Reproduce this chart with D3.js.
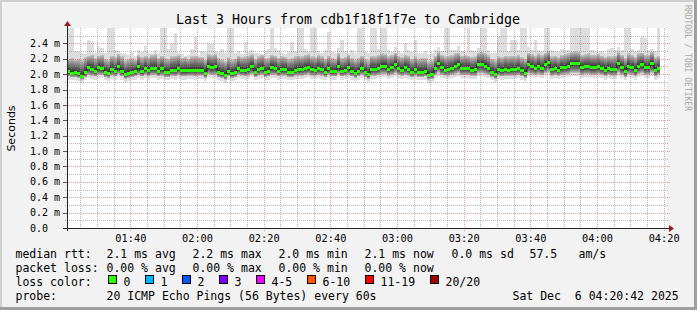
<!DOCTYPE html>
<html>
<head>
<meta charset="utf-8">
<script src="https://cdn.jsdelivr.net/npm/d3@7"></script>
<style>
  body { margin: 0; background: #f2f2f2; }
  svg text { font-family: "DejaVu Sans Mono", monospace; fill: #000; }
</style>
</head>
<body>
<svg id="chart" width="697" height="310"></svg>
<script>
// ---- data (values in ms) ----
const startTime = new Date(2025, 11, 6, 1, 21, 0);   // one column per minute

const median = [
  2.04, 2.02, 2.03, 2.01, 1.98, 2.03, 2.09, 2.07, 2.04, 2.09,
  2.08, 2.03, 2.02, 2.07, 2.04, 2.10, 2.04, 2.00, 2.02, 2.03,
  2.04, 2.10, 2.04, 2.08, 2.05, 2.08, 2.08, 2.04, 2.08, 2.03,
  2.03, 2.06, 2.06, 2.08, 2.05, 2.05, 2.05, 2.06, 2.06, 2.06,
  2.06, 2.02, 2.11, 2.09, 2.10, 2.03, 2.01, 1.99, 2.04, 2.01,
  2.03, 2.08, 2.06, 2.05, 2.07, 2.10, 2.03, 2.07, 2.08, 2.03,
  2.04, 2.09, 2.08, 2.04, 2.07, 2.07, 2.03, 2.03, 2.06, 2.07,
  2.07, 2.08, 2.09, 2.07, 2.06, 2.08, 2.07, 2.03, 2.08, 2.04,
  2.04, 2.11, 2.04, 2.06, 2.09, 2.04, 2.02, 2.04, 2.08, 2.03,
  2.00, 2.07, 2.07, 2.08, 2.11, 2.11, 2.07, 2.09, 2.13, 2.08,
  2.06, 2.09, 2.07, 2.03, 2.07, 2.03, 2.03, 2.04, 1.99, 2.00,
  2.08, 2.14, 2.09, 2.06, 2.07, 2.08, 2.11, 2.13, 2.08, 2.08,
  2.08, 2.06, 2.07, 2.13, 2.13, 2.11, 2.08, 2.03, 2.00, 2.07,
  2.05, 2.07, 2.06, 2.07, 2.07, 2.08, 2.05, 2.02, 2.13, 2.10,
  2.08, 2.11, 2.08, 2.13, 2.16, 2.07, 2.08, 2.06, 2.09, 2.09,
  2.11, 2.14, 2.14, 2.14, 2.09, 2.10, 2.10, 2.09, 2.09, 2.10,
  2.08, 2.06, 2.08, 2.07, 2.07, 2.14, 2.09, 2.04, 2.11, 2.09,
  2.06, 2.11, 2.13, 2.09, 2.09, 2.14, 2.06, 2.08
];

// slowest ping of each round (tall light smoke)
const smokeMax = [
  2.70, 2.70, 2.30, 2.29, 2.27, 2.26, 2.44, 2.43, 2.27, 2.35,
  2.34, 2.27, 2.70, 2.70, 2.31, 2.30, 2.28, 2.27, 2.25, 2.27,
  2.23, 2.31, 2.29, 2.36, 2.27, 2.27, 2.31, 2.28, 2.70, 2.70,
  2.33, 2.40, 2.53, 2.27, 2.26, 2.24, 2.25, 2.33, 2.48, 2.25,
  2.30, 2.29, 2.40, 2.39, 2.30, 2.29, 2.33, 2.27, 2.70, 2.70,
  2.28, 2.30, 2.26, 2.42, 2.29, 2.32, 2.27, 2.28, 2.26, 2.30,
  2.33, 2.70, 2.34, 2.31, 2.28, 2.26, 2.29, 2.42, 2.30, 2.70,
  2.70, 2.33, 2.30, 2.70, 2.70, 2.30, 2.28, 2.31, 2.55, 2.29,
  2.27, 2.34, 2.45, 2.30, 2.28, 2.31, 2.27, 2.70, 2.70, 2.29,
  2.28, 2.70, 2.70, 2.33, 2.70, 2.70, 2.31, 2.29, 2.35, 2.30,
  2.28, 2.40, 2.31, 2.29, 2.45, 2.28, 2.27, 2.30, 2.26, 2.27,
  2.31, 2.35, 2.30, 2.70, 2.70, 2.32, 2.31, 2.36, 2.30, 2.29,
  2.70, 2.32, 2.30, 2.34, 2.70, 2.70, 2.31, 2.28, 2.27, 2.50,
  2.70, 2.70, 2.30, 2.45, 2.44, 2.31, 2.70, 2.70, 2.35, 2.32,
  2.45, 2.31, 2.30, 2.70, 2.70, 2.31, 2.30, 2.29, 2.33, 2.32,
  2.31, 2.70, 2.70, 2.70, 2.70, 2.70, 2.70, 2.31, 2.30, 2.29,
  2.30, 2.28, 2.33, 2.34, 2.31, 2.35, 2.32, 2.62, 2.60, 2.33,
  2.30, 2.32, 2.48, 2.47, 2.31, 2.33, 2.30, 2.70
];

// upper edge of the dense smoke
const smokeHigh = [
  2.20, 2.21, 2.19, 2.20, 2.18, 2.22, 2.24, 2.25, 2.21, 2.24,
  2.25, 2.20, 2.19, 2.24, 2.22, 2.26, 2.23, 2.18, 2.20, 2.21,
  2.19, 2.25, 2.22, 2.24, 2.22, 2.25, 2.26, 2.21, 2.24, 2.21,
  2.20, 2.23, 2.24, 2.25, 2.21, 2.22, 2.20, 2.23, 2.24, 2.22,
  2.22, 2.19, 2.26, 2.25, 2.26, 2.21, 2.19, 2.17, 2.22, 2.19,
  2.20, 2.24, 2.22, 2.23, 2.24, 2.26, 2.20, 2.23, 2.25, 2.21,
  2.21, 2.25, 2.24, 2.21, 2.23, 2.22, 2.20, 2.21, 2.23, 2.24,
  2.23, 2.25, 2.26, 2.23, 2.22, 2.25, 2.23, 2.20, 2.24, 2.21,
  2.20, 2.27, 2.21, 2.22, 2.25, 2.21, 2.19, 2.21, 2.24, 2.20,
  2.18, 2.24, 2.23, 2.25, 2.27, 2.26, 2.23, 2.25, 2.28, 2.24,
  2.22, 2.25, 2.24, 2.20, 2.23, 2.20, 2.21, 2.21, 2.17, 2.18,
  2.24, 2.29, 2.25, 2.23, 2.24, 2.25, 2.27, 2.28, 2.24, 2.25,
  2.24, 2.22, 2.23, 2.28, 2.29, 2.27, 2.25, 2.20, 2.18, 2.23,
  2.22, 2.24, 2.23, 2.24, 2.23, 2.25, 2.22, 2.20, 2.28, 2.26,
  2.24, 2.27, 2.25, 2.28, 2.30, 2.23, 2.24, 2.22, 2.25, 2.26,
  2.27, 2.29, 2.30, 2.29, 2.25, 2.26, 2.27, 2.25, 2.25, 2.26,
  2.24, 2.22, 2.24, 2.23, 2.24, 2.29, 2.25, 2.21, 2.27, 2.25,
  2.22, 2.27, 2.28, 2.25, 2.25, 2.29, 2.22, 2.24
];

// lower edge of the dense smoke
const smokeLow = [
  1.97, 1.96, 1.96, 1.95, 1.93, 1.96, 1.99, 1.98, 1.97, 1.99,
  1.99, 1.96, 1.95, 1.98, 1.97, 2.00, 1.97, 1.94, 1.95, 1.96,
  1.97, 1.99, 1.97, 1.99, 1.97, 1.99, 1.99, 1.97, 1.98, 1.96,
  1.96, 1.98, 1.97, 1.99, 1.97, 1.97, 1.98, 1.98, 1.97, 1.98,
  1.98, 1.95, 2.00, 1.99, 1.99, 1.96, 1.95, 1.93, 1.97, 1.95,
  1.96, 1.99, 1.98, 1.97, 1.98, 2.00, 1.96, 1.98, 1.99, 1.96,
  1.97, 1.99, 1.99, 1.97, 1.98, 1.98, 1.96, 1.96, 1.98, 1.98,
  1.98, 1.99, 2.00, 1.98, 1.98, 1.99, 1.98, 1.96, 1.99, 1.97,
  1.97, 2.00, 1.97, 1.98, 1.99, 1.97, 1.95, 1.97, 1.99, 1.96,
  1.94, 1.98, 1.98, 1.99, 2.00, 2.00, 1.98, 1.99, 2.01, 1.99,
  1.98, 1.99, 1.98, 1.96, 1.98, 1.96, 1.96, 1.97, 1.93, 1.94,
  1.99, 2.02, 1.99, 1.98, 1.98, 1.99, 2.00, 2.01, 1.99, 1.99,
  1.99, 1.98, 1.98, 2.01, 2.01, 2.00, 1.99, 1.96, 1.94, 1.98,
  1.97, 1.98, 1.98, 1.98, 1.98, 1.99, 1.97, 1.95, 2.01, 2.00,
  1.99, 2.00, 1.99, 2.01, 2.03, 1.98, 1.99, 1.98, 1.99, 2.00,
  2.00, 2.02, 2.02, 2.02, 1.99, 2.00, 2.00, 1.99, 1.99, 2.00,
  1.99, 1.97, 1.99, 1.98, 1.98, 2.02, 1.99, 1.96, 2.00, 1.99,
  1.97, 2.00, 2.01, 1.99, 1.99, 2.02, 1.97, 1.99
];

// fastest ping of each round
const smokeMin = [
  1.93, 1.92, 1.92, 1.91, 1.89, 1.92, 1.95, 1.94, 1.93, 1.95,
  1.95, 1.92, 1.91, 1.94, 1.93, 1.96, 1.93, 1.90, 1.91, 1.92,
  1.93, 1.95, 1.93, 1.95, 1.93, 1.95, 1.95, 1.93, 1.94, 1.92,
  1.92, 1.94, 1.93, 1.95, 1.93, 1.93, 1.94, 1.94, 1.93, 1.94,
  1.94, 1.91, 1.96, 1.95, 1.95, 1.92, 1.91, 1.89, 1.93, 1.91,
  1.92, 1.95, 1.94, 1.93, 1.94, 1.96, 1.92, 1.94, 1.95, 1.92,
  1.93, 1.95, 1.95, 1.93, 1.94, 1.94, 1.92, 1.92, 1.94, 1.94,
  1.94, 1.95, 1.96, 1.94, 1.94, 1.95, 1.94, 1.92, 1.95, 1.93,
  1.93, 1.96, 1.93, 1.94, 1.95, 1.93, 1.91, 1.93, 1.95, 1.92,
  1.90, 1.94, 1.94, 1.95, 1.96, 1.96, 1.94, 1.95, 1.97, 1.95,
  1.94, 1.95, 1.94, 1.92, 1.94, 1.92, 1.92, 1.93, 1.89, 1.90,
  1.95, 1.98, 1.95, 1.94, 1.94, 1.95, 1.96, 1.97, 1.95, 1.95,
  1.95, 1.94, 1.94, 1.97, 1.97, 1.96, 1.95, 1.92, 1.90, 1.94,
  1.93, 1.94, 1.94, 1.94, 1.94, 1.95, 1.93, 1.91, 1.97, 1.96,
  1.95, 1.96, 1.95, 1.97, 1.99, 1.94, 1.95, 1.94, 1.95, 1.96,
  1.96, 1.98, 1.98, 1.98, 1.95, 1.96, 1.96, 1.95, 1.95, 1.96,
  1.95, 1.93, 1.95, 1.94, 1.94, 1.98, 1.95, 1.92, 1.96, 1.95,
  1.93, 1.96, 1.97, 1.95, 1.95, 1.98, 1.93, 1.95
];

const yTicks = [0, 0.2, 0.4, 0.6, 0.8, 1.0, 1.2, 1.4, 1.6, 1.8, 2.0, 2.2, 2.4];
const yMinorTicks = [0.1, 0.3, 0.5, 0.7, 0.9, 1.1, 1.3, 1.5, 1.7, 1.9, 2.1, 2.3, 2.5];

const title = "Last 3 Hours from cdb1f18f1f7e to Cambridge";
const rttStats = ["2.1 ms avg", "2.2 ms max", "2.0 ms min", "2.1 ms now", "0.0 ms sd"];
const rttExtra = ["57.5", "am/s"];
const lossStats = ["0.00 % avg", "0.00 % max", "0.00 % min", "0.00 % now"];
const lossLabels = ["0", "1", "2", "3", "4-5", "6-10", "11-19", "20/20"];
const lossColors = ["#26ff00", "#00b8ff", "#0059ff", "#7e00ff", "#ee00ff", "#ff5500", "#ff0000", "#a10000"];
const probeText = "20 ICMP Echo Pings (56 Bytes) every 60s";
const stampText = "Sat Dec  6 04:20:42 2025";

// ---- layout ----
const W = 697, H = 310;
const plotL = 67, plotR = 667, plotT = 28, plotB = 228;

const svg = d3.select("#chart");

const x = d3.scaleTime()
  .domain([startTime, d3.timeMinute.offset(startTime, 180)])
  .range([plotL, plotR]);
const y = d3.scaleLinear().domain([0, 2.6]).range([plotB, plotT]);

// background and 3d frame
svg.append("rect").attr("width", W).attr("height", H).attr("fill", "#f2f2f2");
svg.append("path").attr("d", `M0,0H${W}V2H2V${H}H0Z`).attr("fill", "#cfcfcf");
svg.append("path").attr("d", `M${W},0V${H}H0V${H - 3}H${W - 3}V0Z`).attr("fill", "#9e9e9e");
svg.append("rect")
  .attr("x", plotL).attr("y", plotT)
  .attr("width", plotR - plotL).attr("height", plotB - plotT)
  .attr("fill", "#fff");

const defs = svg.append("defs");
defs.append("clipPath").attr("id", "plotClip")
  .append("rect").attr("x", plotL).attr("y", plotT)
  .attr("width", plotR - plotL).attr("height", plotB - plotT);

// darker towards the median, like the stacked smoke bands
const upGrad = defs.append("linearGradient").attr("id", "upGrad")
  .attr("x1", 0).attr("y1", 0).attr("x2", 0).attr("y2", 1);
upGrad.append("stop").attr("offset", 0).attr("stop-color", "#c4c4c4");
upGrad.append("stop").attr("offset", 0.35).attr("stop-color", "#8c8c8c");
upGrad.append("stop").attr("offset", 0.75).attr("stop-color", "#505050");
upGrad.append("stop").attr("offset", 1).attr("stop-color", "#303030");

const downGrad = defs.append("linearGradient").attr("id", "downGrad")
  .attr("x1", 0).attr("y1", 0).attr("x2", 0).attr("y2", 1);
downGrad.append("stop").attr("offset", 0).attr("stop-color", "#303030");
downGrad.append("stop").attr("offset", 0.4).attr("stop-color", "#555555");
downGrad.append("stop").attr("offset", 0.75).attr("stop-color", "#8e8e8e");
downGrad.append("stop").attr("offset", 1).attr("stop-color", "#bdbdbd");

// one record per minute column
const cols = median.map((m, i) => ({
  t0: d3.timeMinute.offset(startTime, i),
  t1: d3.timeMinute.offset(startTime, i + 1),
  med: m,
  max: smokeMax[i],
  high: smokeHigh[i],
  low: smokeLow[i],
  min: smokeMin[i]
}));
const colX = d => Math.round(x(d.t0));
const colW = d => Math.round(x(d.t1)) - Math.round(x(d.t0));

// smoke
const smoke = svg.append("g").attr("clip-path", "url(#plotClip)")
  .attr("shape-rendering", "crispEdges");
smoke.selectAll(".outer").data(cols).join("rect")
  .attr("class", "outer")
  .attr("x", colX).attr("width", colW)
  .attr("y", d => y(d.max)).attr("height", d => y(d.min) - y(d.max))
  .attr("fill", "#dddddd");
smoke.selectAll(".upper").data(cols).join("rect")
  .attr("class", "upper")
  .attr("x", colX).attr("width", colW)
  .attr("y", d => y(d.high)).attr("height", d => y(d.med) - y(d.high))
  .attr("fill", "url(#upGrad)");
smoke.selectAll(".lower").data(cols).join("rect")
  .attr("class", "lower")
  .attr("x", colX).attr("width", colW)
  .attr("y", d => y(d.med)).attr("height", d => y(d.low) - y(d.med))
  .attr("fill", "url(#downGrad)");

// grid
const grid = svg.append("g");
const endTime = d3.timeMinute.offset(startTime, 180);
const minorTimes = d3.timeMinute.every(5).range(startTime, endTime)
  .filter(t => t.getMinutes() % 20 !== 0);
const majorTimes = d3.timeMinute.every(20).range(startTime, endTime);
const px = v => Math.round(v) + 0.5;

grid.selectAll(".hminor").data(yMinorTicks).join("line")
  .attr("x1", plotL - 2).attr("x2", plotR + 1)
  .attr("y1", d => px(y(d))).attr("y2", d => px(y(d)))
  .attr("stroke", "#8f8f8f").attr("stroke-opacity", 0.65)
  .attr("stroke-dasharray", "1,1");
grid.selectAll(".hmajor").data(yTicks.filter(v => v > 0)).join("line")
  .attr("x1", plotL - 4).attr("x2", plotR + 3)
  .attr("y1", d => px(y(d))).attr("y2", d => px(y(d)))
  .attr("stroke", "#de5050").attr("stroke-opacity", 0.55)
  .attr("stroke-dasharray", "1,1");
grid.selectAll(".htick").data(yTicks.filter(v => v > 0)).join("line")
  .attr("x1", plotL - 4).attr("x2", plotL)
  .attr("y1", d => px(y(d))).attr("y2", d => px(y(d)))
  .attr("stroke", "#555");
grid.selectAll(".vminor").data(minorTimes).join("line")
  .attr("y1", plotT).attr("y2", plotB + 2)
  .attr("x1", d => px(x(d))).attr("x2", d => px(x(d)))
  .attr("stroke", "#8f8f8f").attr("stroke-opacity", 0.65)
  .attr("stroke-dasharray", "1,1");
grid.selectAll(".vmajor").data(majorTimes).join("line")
  .attr("y1", plotT).attr("y2", plotB + 3)
  .attr("x1", d => px(x(d))).attr("x2", d => px(x(d)))
  .attr("stroke", "#de5050").attr("stroke-opacity", 0.55)
  .attr("stroke-dasharray", "1,1");

// median: dark step line with loss-coloured bars on top
const stepPts = cols.map(d => [colX(d), y(d.med)]);
const lastCol = cols[cols.length - 1];
stepPts.push([colX(lastCol) + colW(lastCol), y(lastCol.med)]);
svg.append("path")
  .attr("d", d3.line().curve(d3.curveStepAfter)(stepPts))
  .attr("fill", "none").attr("stroke", "#202020").attr("stroke-width", 1);
svg.append("g").attr("shape-rendering", "crispEdges")
  .selectAll("rect").data(cols).join("rect")
  .attr("x", colX).attr("width", colW)
  .attr("y", d => Math.round(y(d.med)) - 1).attr("height", 3)
  .attr("fill", lossColors[0]);

// axes
svg.append("line").attr("x1", plotL + 0.5).attr("x2", plotL + 0.5)
  .attr("y1", plotB + 3).attr("y2", plotT - 3).attr("stroke", "#222");
svg.append("line").attr("x1", plotL - 4).attr("x2", plotR + 3)
  .attr("y1", plotB + 0.5).attr("y2", plotB + 0.5).attr("stroke", "#222");
svg.append("path").attr("d", `M${plotL - 3},${plotT - 2}L${plotL + 4},${plotT - 2}L${plotL + 0.5},${plotT - 7}Z`)
  .attr("fill", "#961e1e");
svg.append("path").attr("d", `M${plotR + 2},${plotB - 3}L${plotR + 2},${plotB + 4}L${plotR + 7},${plotB + 0.5}Z`)
  .attr("fill", "#961e1e");

// tick labels
svg.append("g").selectAll("text").data(yTicks).join("text")
  .attr("x", 30).attr("y", d => y(d) + 3.6)
  .style("font-size", "10px")
  .text(d => d === 0 ? "0.0" : d3.format(".1f")(d) + " m");
svg.append("g").selectAll("text").data(majorTimes).join("text")
  .attr("x", d => x(d) + 0.5).attr("y", 241.5)
  .attr("text-anchor", "middle")
  .style("font-size", "10.3px")
  .text(d3.timeFormat("%H:%M"));

// title and side labels
svg.append("text").attr("x", 348).attr("y", 24)
  .attr("text-anchor", "middle").style("font-size", "13.3px").text(title);
svg.append("text")
  .attr("transform", "translate(15,128.5) rotate(-90)")
  .attr("text-anchor", "middle")
  .style("font-family", "'DejaVu Sans', sans-serif").style("font-size", "11px")
  .text("Seconds");
svg.append("text")
  .attr("transform", "translate(685,5) rotate(90)")
  .style("font-size", "8px").style("fill", "#a8a8a8")
  .text("RRDTOOL / TOBI OETIKER");

// legend
const lg = svg.append("g").style("font-size", "11.5px");
const statX = [106.5, 192.5, 278.5, 364.5, 451.5];
lg.append("text").attr("x", 15.5).attr("y", 258).text("median rtt:");
lg.selectAll(".rtt").data(rttStats).join("text")
  .attr("x", (d, i) => statX[i]).attr("y", 258).text(d => d);
lg.append("text").attr("x", 529.5).attr("y", 258).text(rttExtra[0]);
lg.append("text").attr("x", 578.5).attr("y", 258).text(rttExtra[1]);

lg.append("text").attr("x", 15.5).attr("y", 272).text("packet loss:");
lg.selectAll(".loss").data(lossStats).join("text")
  .attr("x", (d, i) => statX[i]).attr("y", 272).text(d => d);

lg.append("text").attr("x", 15.5).attr("y", 286).text("loss color:");
const boxX = [108.5, 145.5, 182.5, 219.5, 256.5, 307.5, 365.5, 430.5];
lg.selectAll(".lbox").data(lossColors).join("rect")
  .attr("x", (d, i) => boxX[i]).attr("y", 275.5)
  .attr("width", 8).attr("height", 8)
  .attr("fill", d => d).attr("stroke", "#000");
lg.selectAll(".ltext").data(lossLabels).join("text")
  .attr("x", (d, i) => boxX[i] + 15).attr("y", 286).text(d => d);

lg.append("text").attr("x", 15.5).attr("y", 300).text("probe:");
lg.append("text").attr("x", 106.5).attr("y", 300).text(probeText);
lg.append("text").attr("x", 512.5).attr("y", 300)
  .style("white-space", "pre").text(stampText);
</script>
</body>
</html>
